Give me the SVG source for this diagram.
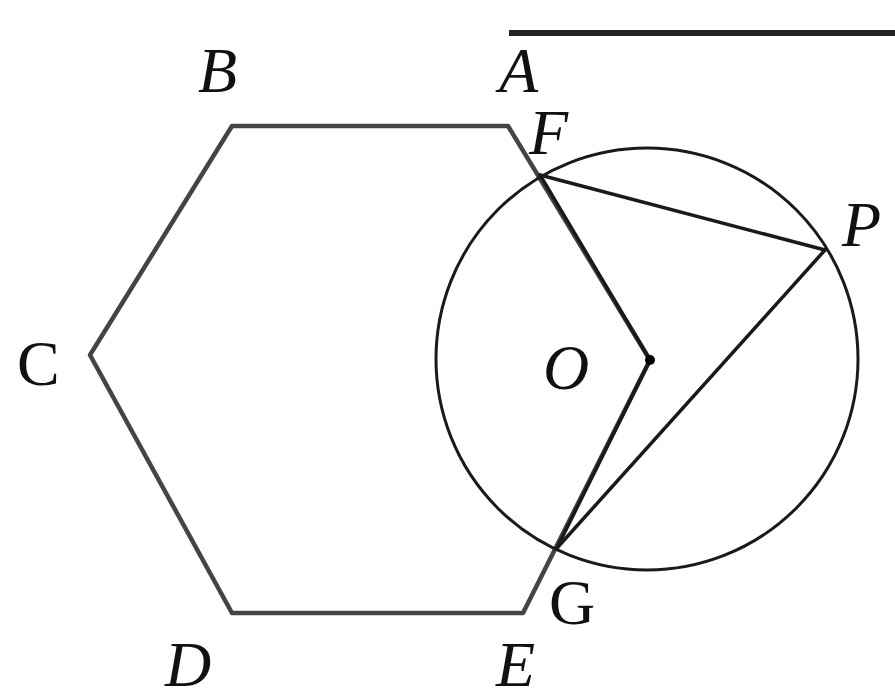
<svg xmlns="http://www.w3.org/2000/svg" width="895" height="700" viewBox="0 0 895 700">
<style>
.lbl{font-family:"Liberation Serif","Times New Roman",serif;font-size:64px;fill:#111;font-style:italic}
.up{font-style:normal}
.hex{fill:none;stroke:#444;stroke-width:4.5;stroke-linejoin:round}
.ln{stroke:#1a1a1a;stroke-width:3.5;fill:none;stroke-linecap:round}
</style>
<rect width="895" height="700" fill="#fff"/>
<line x1="509" y1="33" x2="895" y2="33" stroke="#222" stroke-width="6"/>
<g id="hexagon">
<polygon class="hex" points="232,126 508,126 650,360 523,613 232,613 90,355"/>
</g>
<g id="circle">
<circle cx="647" cy="359" r="211" fill="none" stroke="#1a1a1a" stroke-width="3"/>
</g>
<g id="connectors">
<line class="ln" x1="540" y1="175" x2="825" y2="250"/>
<line class="ln" x1="825" y1="250" x2="557" y2="548"/>
<line class="ln" x1="540" y1="175" x2="650" y2="360"/>
<line class="ln" x1="650" y1="360" x2="557" y2="548"/>
</g>
<g id="O-point"><circle cx="650" cy="360" r="5" fill="#000"/></g>
<g id="labels">
<text class="lbl" x="198" y="92">B</text>
<text class="lbl" x="499" y="92">A</text>
<text class="lbl" x="529" y="154">F</text>
<text class="lbl" x="842" y="246">P</text>
<text class="lbl up" x="17" y="385">C</text>
<text class="lbl" x="543" y="389">O</text>
<text class="lbl up" x="549" y="624">G</text>
<text class="lbl" x="165" y="686">D</text>
<text class="lbl" x="496" y="686">E</text>
</g>
</svg>
